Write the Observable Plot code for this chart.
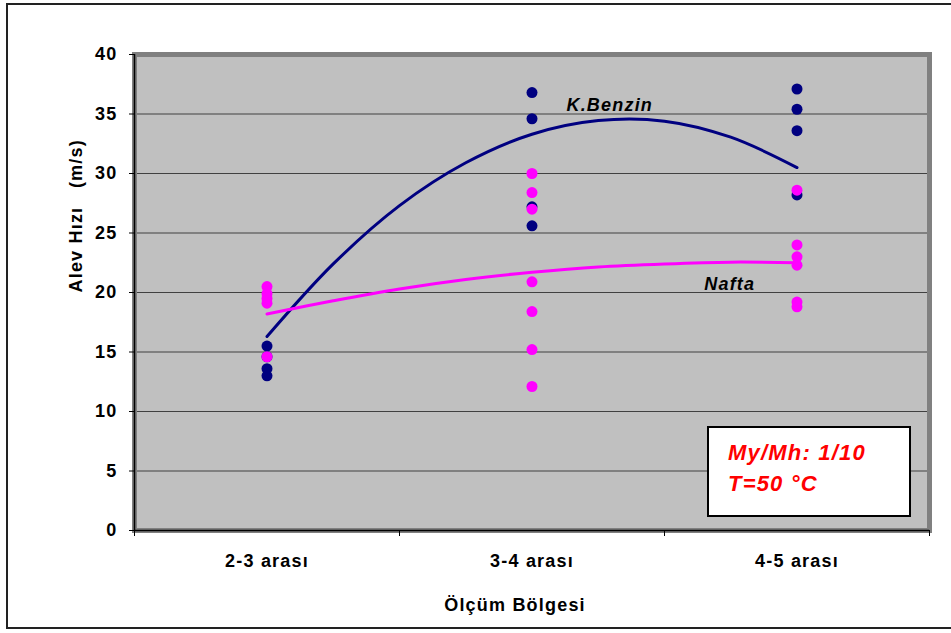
<!DOCTYPE html>
<html>
<head>
<meta charset="utf-8">
<script src="https://cdn.jsdelivr.net/npm/d3@7"></script>
<script src="https://cdn.jsdelivr.net/npm/@observablehq/plot@0.6"></script>
<style>
  html, body { margin: 0; padding: 0; background: #fff; }
  #wrap { position: relative; width: 951px; height: 633px; overflow: hidden; font-family: "Liberation Sans", Arial, sans-serif; }
  #border { position: absolute; left: 6px; top: 3px; width: 970px; height: 626px; border: 2px solid #222; box-sizing: border-box; pointer-events: none; }
  #note { position: absolute; left: 707px; top: 426px; width: 204px; height: 91px; box-sizing: border-box; border: 2px solid #000; background: #fff;
          color: #ff0000; font-weight: bold; font-style: italic; font-size: 22px; letter-spacing: 1.2px; line-height: 31px; padding: 9px 0 0 19px; }
</style>
</head>
<body>
<div id="wrap">
  <div id="chart"></div>
  <div id="border"></div>
  <div id="note">My/Mh: 1/10<br>T=50 °C</div>
</div>
<script>
const categories = ["2-3 arası", "3-4 arası", "4-5 arası"];
const benzin = [[15.5, 14.6, 13.6, 13.0], [36.8, 34.6, 27.2, 25.6], [37.1, 35.4, 33.6, 28.2]];
const nafta = [[20.5, 19.9, 19.5, 19.1, 14.6], [30.0, 28.4, 27.0, 20.9, 18.4, 15.2, 12.1], [28.6, 24.0, 23.0, 22.3, 19.2, 18.8]];
const trendPos = [1, 1.25, 1.5, 1.75, 2, 2.25, 2.5, 2.75, 3];
const benzinTrend = [16.3, 22.4, 27.3, 30.9, 33.3, 34.45, 34.4, 33.05, 30.5];
const naftaTrend = [18.2, 19.3, 20.3, 21.1, 21.7, 22.15, 22.4, 22.55, 22.5];
const yTicks = [0, 5, 10, 15, 20, 25, 30, 35, 40];
const gridTicks = [5, 10, 15, 20, 25, 30, 35];
const bandEdges = [0.5, 1.5, 2.5, 3.5];
const seriesLabels = [
  {name: "K.Benzin", x: 2.13, y: 35.7},
  {name: "Nafta", x: 2.65, y: 20.7}
];

const toPoints = (groups) => groups.flatMap((vals, i) => vals.map(v => ({x: i + 1, y: v})));
const toTrend = (vals) => trendPos.map((p, i) => ({x: p, y: vals[i]}));

const NAVY = "#000080", MAGENTA = "#ff00ff";

const chart = Plot.plot({
  width: 951,
  height: 633,
  marginLeft: 134,
  marginRight: 22,
  marginTop: 54,
  marginBottom: 103,
  style: {fontFamily: "'Liberation Sans', Arial, sans-serif", fontSize: "18px", fontWeight: "bold", letterSpacing: "1.2px", background: "transparent", color: "#000"},
  x: {domain: [0.5, 3.5], axis: null},
  y: {domain: [0, 40], axis: null},
  marks: [
    Plot.frame({fill: "#c0c0c0"}),
    Plot.ruleY(gridTicks, {stroke: "#404040", strokeWidth: 1}),
    Plot.frame({stroke: "#808080", strokeWidth: 5}),
    Plot.ruleX([0.5], {stroke: "#000", strokeWidth: 1.5}),
    Plot.ruleY([0], {stroke: "#000", strokeWidth: 1.5}),
    Plot.axisY(yTicks, {tickSize: 5, tickPadding: 12, label: null, fontSize: 18}),
    Plot.axisX(bandEdges, {tickSize: 6, tickFormat: () => "", label: null}),
    Plot.axisX([1, 2, 3], {tickSize: 0, tickPadding: 24, tickFormat: d => categories[d - 1], label: null, fontSize: 18}),
    Plot.dot(toPoints(benzin), {x: "x", y: "y", r: 5.5, fill: NAVY, stroke: null}),
    Plot.dot(toPoints(nafta), {x: "x", y: "y", r: 5.5, fill: MAGENTA, stroke: null}),
    Plot.line(toTrend(benzinTrend), {x: "x", y: "y", stroke: NAVY, strokeWidth: 3, curve: "catmull-rom"}),
    Plot.line(toTrend(naftaTrend), {x: "x", y: "y", stroke: MAGENTA, strokeWidth: 3, curve: "catmull-rom"}),
    Plot.text(seriesLabels, {x: "x", y: "y", text: "name", textAnchor: "start", fontStyle: "italic", fontSize: 18, letterSpacing: "1.5px", fill: "#000"}),
    Plot.text(["Ölçüm Bölgesi"], {frameAnchor: "bottom", dy: 80, dx: -17, fontSize: 18, letterSpacing: "1.6px", fill: "#000"}),
    Plot.text(["Alev Hızı   (m/s)"], {frameAnchor: "left", dx: -58, rotate: -90, fontSize: 18, letterSpacing: "1.4px", fill: "#000"})
  ]
});
document.getElementById("chart").appendChild(chart);
</script>
</body>
</html>
